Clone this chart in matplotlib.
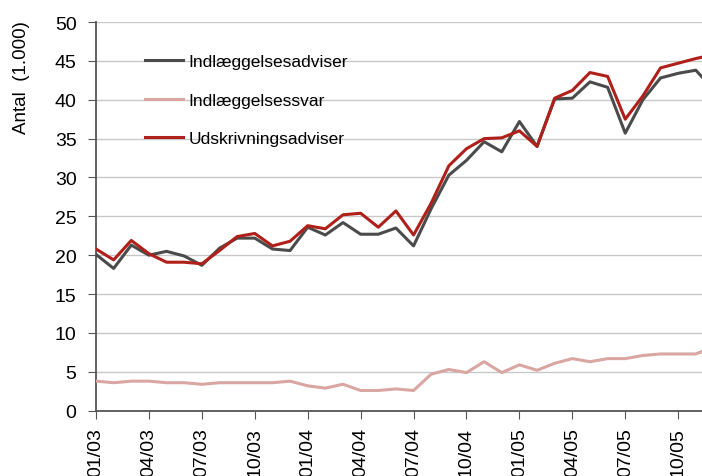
import numpy as np
import matplotlib
matplotlib.use('Agg')
import matplotlib.pyplot as plt

plt.rcParams['font.family'] = ['Liberation Sans', 'DejaVu Sans']

# maaneder 01/03 .. 12/05
maaneder = ['%02d/%02d' % (m, y) for y in (3, 4, 5) for m in range(1, 13)]

indl_adv = [20.1, 18.3, 21.3, 20.0, 20.5, 19.9, 18.7, 20.9, 22.2, 22.2, 20.8, 20.6,
            23.6, 22.6, 24.2, 22.7, 22.7, 23.5, 21.2, 26.0, 30.3, 32.2, 34.6, 33.3,
            37.2, 34.0, 40.1, 40.2, 42.3, 41.6, 35.7, 40.0, 42.8, 43.4, 43.8, 41.3]
indl_svar = [3.8, 3.6, 3.8, 3.8, 3.6, 3.6, 3.4, 3.6, 3.6, 3.6, 3.6, 3.8,
             3.2, 2.9, 3.4, 2.6, 2.6, 2.8, 2.6, 4.7, 5.3, 4.9, 6.3, 4.9,
             5.9, 5.2, 6.1, 6.7, 6.3, 6.7, 6.7, 7.1, 7.3, 7.3, 7.3, 8.2]
udskr_adv = [20.8, 19.4, 21.9, 20.2, 19.1, 19.1, 18.9, 20.6, 22.4, 22.8, 21.2, 21.8,
             23.8, 23.4, 25.2, 25.4, 23.6, 25.7, 22.6, 26.7, 31.5, 33.7, 35.0, 35.1,
             36.0, 34.0, 40.2, 41.2, 43.5, 43.0, 37.5, 40.5, 44.1, 44.7, 45.3, 45.8]

x = np.arange(len(maaneder))

fig = plt.figure(figsize=(7.02, 4.77), dpi=100)
ax = fig.add_axes([96/702, 1 - 411.7/477, (702 - 96)/702, 388.7/477])

ax.plot(x, indl_adv, color='#4b4b4b', lw=2.2, label='Indlæggelsesadviser', zorder=3)
ax.plot(x, indl_svar, color='#d9a6a2', lw=2.2, label='Indlæggelsessvar', zorder=3)
ax.plot(x, udskr_adv, color='#b0201a', lw=2.2, label='Udskrivningsadviser', zorder=4)

ax.set_xlim(0, 34.35)
ax.set_ylim(0, 50)
ax.set_yticks(np.arange(0, 51, 5))
ax.set_xticks(x[::3])
ax.set_xticklabels(maaneder[::3], rotation=90)

ax.grid(axis='y', color='#c8c8c8', lw=1)
ax.set_axisbelow(True)
for s in ('top', 'right'):
    ax.spines[s].set_visible(False)
for s in ('left', 'bottom'):
    ax.spines[s].set_color('#555555')
    ax.spines[s].set_linewidth(1.3)

ax.tick_params(axis='y', length=6, color='#555555', labelsize=14, pad=8)
ax.tick_params(axis='x', length=6, color='#555555', labelsize=14, pad=6)

fig.text(22/702, 1 - 78/477, 'Antal  (1.000)', rotation=90, ha='center', va='center', fontsize=13.5)

leg = ax.legend(loc='upper left', bbox_to_anchor=((145 - 96)/606, 0.918), frameon=False,
                fontsize=12.5, handlelength=2.2, handletextpad=0.3, labelspacing=1.35, borderpad=0,
                borderaxespad=0)

fig.savefig('out.png', dpi=100)
